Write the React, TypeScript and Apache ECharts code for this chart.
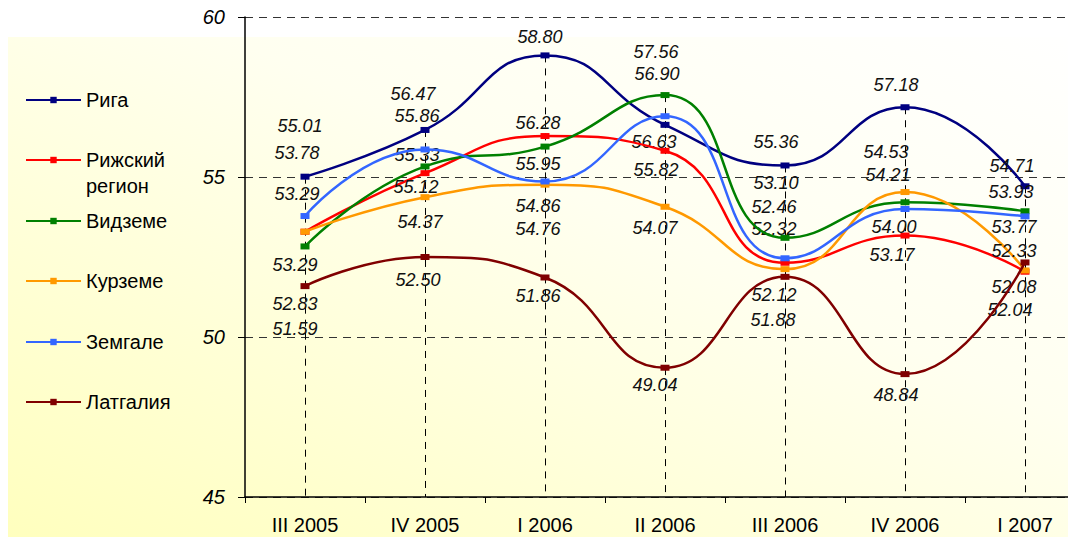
import React, { useEffect, useRef } from "react";
import * as echarts from "echarts";

const categories = ["III 2005", "IV 2005", "I 2006", "II 2006", "III 2006", "IV 2006", "I 2007"];

const seriesNames = ["Рига", "Рижский регион", "Видземе", "Курземе", "Земгале", "Латгалия"];

const riga = [55.01, 56.47, 58.8, 56.63, 55.36, 57.18, 54.71];
const rigaRegion = [53.29, 55.12, 56.28, 55.82, 52.32, 53.17, 52.04];
const vidzeme = [52.83, 55.33, 55.95, 57.56, 53.1, 54.21, 53.93];
const kurzeme = [53.29, 54.37, 54.76, 54.07, 52.12, 54.53, 52.08];
const zemgale = [53.78, 55.86, 54.86, 56.9, 52.46, 54.0, 53.77];
const latgale = [51.59, 52.5, 51.86, 49.04, 51.88, 48.84, 52.33];

const yTicks = [45, 50, 55, 60];

// layout: label offsets [dx, dy] relative to each point
const labelOffsets: number[][][] = [
  [[-5, -51], [-12, -36], [-5, -18], [-11, 17], [-9, -23], [-9, -22], [-13, -20]],
  [[-8, -38], [-9, 14], [-7, -13], [-9, 19], [-11, -34], [-13, 19], [-15, 38]],
  [[-10, 58], [-8, -11], [-7, 17], [-9, -43], [-9, -55], [-17, -27], [-14, -19]],
  [[-10, 33], [-5, 25], [-7, 44], [-10, 21], [-11, 26], [-19, -40], [-11, 17]],
  [[-8, -63], [-8, -33], [-7, 25], [-8, -42], [-11, -51], [-11, 18], [-11, 11]],
  [[-10, 43], [-7, 23], [-7, 19], [-10, 17], [-12, 43], [-9, 21], [-11, -11]],
];

const colors = ["#000080", "#FF0000", "#008000", "#FF9900", "#3366FF", "#800000"];
const legendCenters = [100, 160, 221, 281, 342, 402];

export default function App() {
  const ref = useRef<HTMLDivElement>(null);

  useEffect(() => {
    if (!ref.current) return;
    const chart = echarts.init(ref.current, null, { renderer: "svg" });
    const allSeries = [riga, rigaRegion, vidzeme, kurzeme, zemgale, latgale];
    const maxPerCat = categories.map((_, i) => Math.max(...allSeries.map((s) => s[i])));
    const yMin = yTicks[0];
    const yMax = yTicks[yTicks.length - 1];

    const series: any[] = allSeries.map((vals, si) => ({
      name: seriesNames[si],
      type: "line",
      smooth: 0.5,
      symbol: "rect",
      symbolSize: [9, 6],
      z: 3 + si,
      itemStyle: { color: colors[si] },
      lineStyle: { color: colors[si], width: 2.5 },
      label: {
        show: true,
        position: "inside",
        fontFamily: "Liberation Sans",
        fontStyle: "italic",
        fontSize: 18,
        color: "#111",
        formatter: (p: any) => Number(p.value).toFixed(2),
      },
      data: vals.map((v, i) => ({ value: v, label: { offset: labelOffsets[si][i] } })),
    }));

    series[0].markLine = {
      silent: true,
      symbol: ["none", "none"],
      label: { show: false },
      lineStyle: { type: [7, 6], color: "#000", width: 1 },
      z: 1,
      data: categories.map((c, i) => [
        { coord: [i, maxPerCat[i]] },
        { coord: [i, yMin] },
      ]),
    };

    const legends = seriesNames.map((name, i) => {
      const two = name === "Рижский регион";
      return {
        data: [name],
        orient: "vertical",
        left: 25,
        top: two ? legendCenters[i] - 39 : legendCenters[i] - 13,
        padding: 0,
        itemWidth: 55,
        itemHeight: 8,
        selectedMode: false,
        formatter: two ? () => "\nРижский\nрегион" : undefined,
        textStyle: {
          fontFamily: "Liberation Sans",
          fontSize: 20,
          lineHeight: 26,
          color: "#000",
        },
      };
    });

    chart.setOption({
      animation: false,
      backgroundColor: "#FFFFFF",
      graphic: [
        {
          type: "rect",
          z: -10,
          silent: true,
          shape: { x: 8, y: 37, width: 1100, height: 500 },
          style: {
            fill: {
              type: "linear",
              x: 0,
              y: 1,
              x2: 1,
              y2: 0,
              colorStops: [
                { offset: 0, color: "#FFFFBE" },
                { offset: 0.6, color: "#FFFFF0" },
                { offset: 1, color: "#FFFFFF" },
              ],
            },
          },
        },
      ],
      legend: legends,
      grid: { left: 245, top: 17, width: 840, height: 480, containLabel: false },
      xAxis: {
        type: "category",
        data: categories,
        boundaryGap: true,
        axisLine: { lineStyle: { color: "#000", width: 1.5 } },
        axisTick: { show: true, length: 6, lineStyle: { color: "#000" } },
        axisLabel: {
          fontFamily: "Liberation Sans",
          fontSize: 20,
          color: "#000",
          margin: 18,
        },
        splitLine: { show: false },
      },
      yAxis: {
        type: "value",
        min: yMin,
        max: yMax,
        interval: 5,
        axisLine: { show: true, lineStyle: { color: "#000", width: 1.5 } },
        axisTick: { show: true, length: 7, lineStyle: { color: "#000" } },
        axisLabel: {
          fontFamily: "Liberation Sans",
          fontStyle: "italic",
          fontSize: 20,
          color: "#000",
          margin: 20,
        },
        splitLine: { show: true, lineStyle: { type: [8, 6], color: "#333", width: 1 } },
      },
      series,
    });
    return () => chart.dispose();
  }, []);

  return (
    <div
      style={{
        position: "absolute",
        left: 0,
        top: 0,
        width: 1068,
        height: 537,
        overflow: "hidden",
      }}
    >
      <div ref={ref} style={{ width: 1100, height: 537 }} />
    </div>
  );
}
